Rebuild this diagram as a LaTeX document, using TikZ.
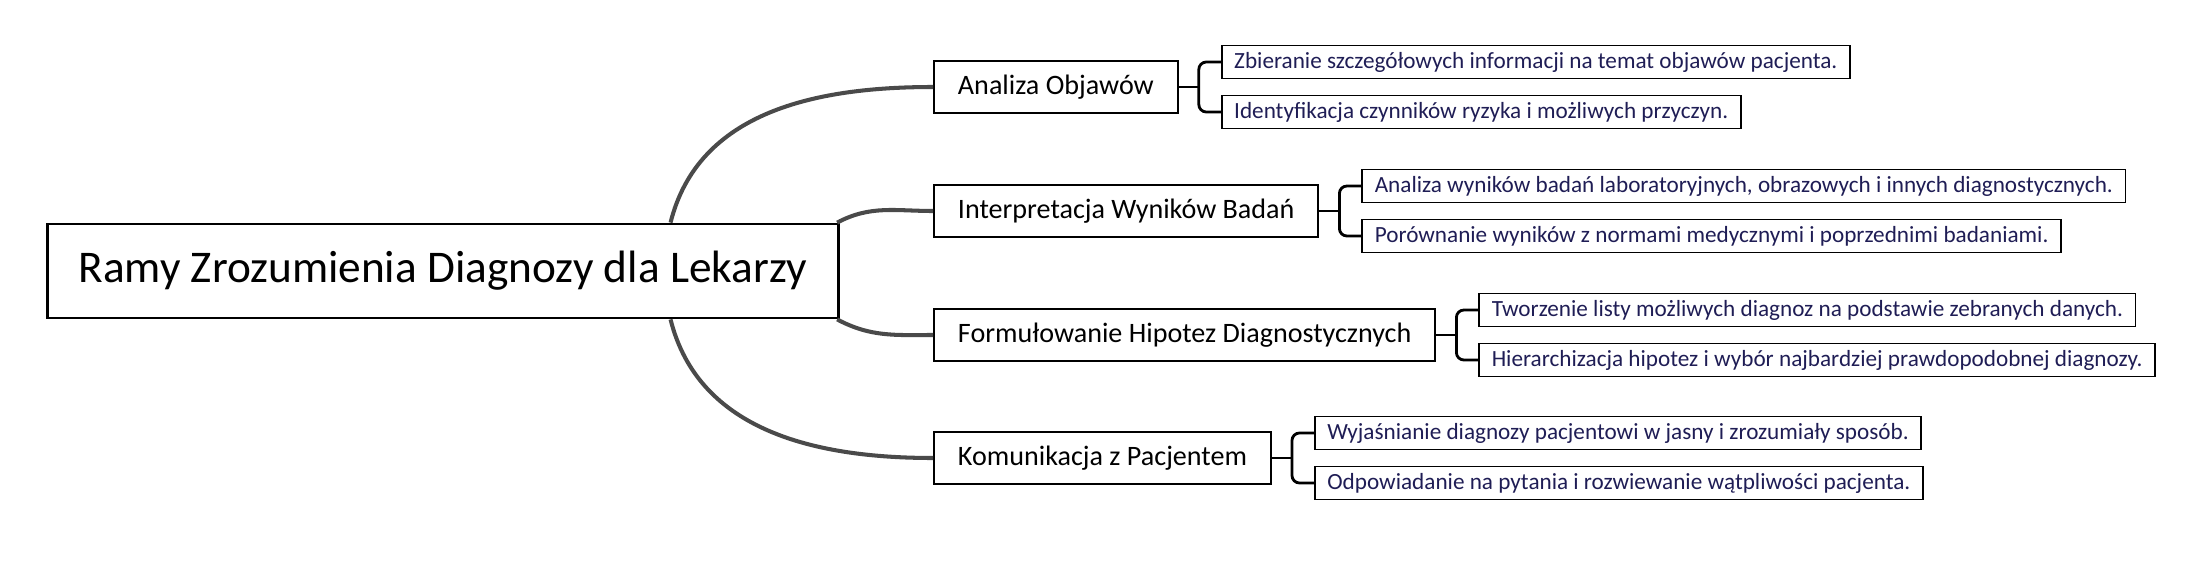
\documentclass[tikz,border=0pt]{standalone}
\usepackage{fontspec}
\setmainfont{Carlito}
\definecolor{curvegray}{HTML}{4A4A4A}
\definecolor{leafink}{HTML}{1F1D55}

\begin{document}
\begin{tikzpicture}[x=0.02cm, y=0.02cm,
  rootbox/.style={draw, line width=1.6pt, fill=white, minimum width=15.82cm, minimum height=1.88cm, font=\fontsize{25.8}{31}\selectfont},
  topic/.style={draw, line width=1.1pt, inner xsep=0.48cm, minimum height=1.04cm, anchor=west, font=\fontsize{16}{19}\selectfont},
  leaf/.style={draw, line width=1pt, inner xsep=0.25cm, minimum height=0.66cm, anchor=west, text=leafink, font=\fontsize{13.2}{16}\selectfont},
  branch/.style={curvegray, line width=2.3pt},
  brace/.style={line width=1.6pt, rounded corners=0.15cm}]
  \useasboundingbox (0,0) rectangle (2209,-561);

  \node[rootbox, anchor=west] (root) at (46,-271) {Ramy Zrozumienia Diagnozy dla Lekarzy};

  \node[topic] (obj) at (933,-87) {Analiza Objawów};
  \node[topic] (wyn) at (933,-211) {Interpretacja Wyników Badań};
  \node[topic] (hip) at (933,-335) {Formułowanie Hipotez Diagnostycznych};
  \node[topic] (kom) at (933,-458) {Komunikacja z Pacjentem};

  \node[leaf] (obj1) at ([shift={(42,25)}]obj.east) {Zbieranie szczegółowych informacji na temat objawów pacjenta.};
  \node[leaf] (obj2) at ([shift={(42,-25)}]obj.east) {Identyfikacja czynników ryzyka i możliwych przyczyn.};
  \node[leaf] (wyn1) at ([shift={(42,25)}]wyn.east) {Analiza wyników badań laboratoryjnych, obrazowych i innych diagnostycznych.};
  \node[leaf] (wyn2) at ([shift={(42,-25)}]wyn.east) {Porównanie wyników z normami medycznymi i poprzednimi badaniami.};
  \node[leaf] (hip1) at ([shift={(42,25)}]hip.east) {Tworzenie listy możliwych diagnoz na podstawie zebranych danych.};
  \node[leaf] (hip2) at ([shift={(42,-25)}]hip.east) {Hierarchizacja hipotez i wybór najbardziej prawdopodobnej diagnozy.};
  \node[leaf] (kom1) at ([shift={(42,25)}]kom.east) {Wyjaśnianie diagnozy pacjentowi w jasny i zrozumiały sposób.};
  \node[leaf] (kom2) at ([shift={(42,-25)}]kom.east) {Odpowiadanie na pytania i rozwiewanie wątpliwości pacjenta.};

  \draw[branch] (root.12.2) to[out=76, in=180] (obj.west);
  \draw[branch] (root.7.3) to[out=28, in=180] (wyn.west);
  \draw[branch] (root.-7.3) to[out=-28, in=180] (hip.west);
  \draw[branch] (root.-12.2) to[out=-76, in=180] (kom.west);

  \draw[brace] (obj.east) -- ++(20,0);
  \draw[brace] (obj1.west) -- ++(-22,0) |- (obj2.west);
  \draw[brace] (wyn.east) -- ++(20,0);
  \draw[brace] (wyn1.west) -- ++(-22,0) |- (wyn2.west);
  \draw[brace] (hip.east) -- ++(20,0);
  \draw[brace] (hip1.west) -- ++(-22,0) |- (hip2.west);
  \draw[brace] (kom.east) -- ++(20,0);
  \draw[brace] (kom1.west) -- ++(-22,0) |- (kom2.west);
\end{tikzpicture}
\end{document}
